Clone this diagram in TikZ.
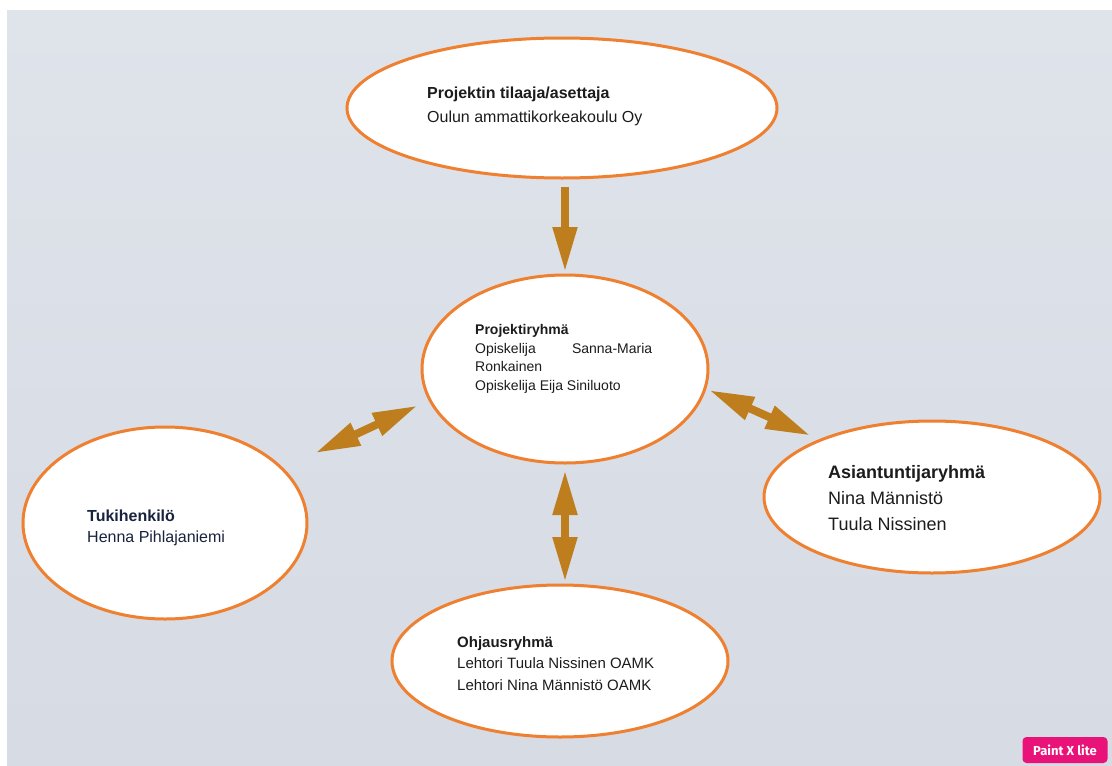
\documentclass[tikz,border=0pt]{standalone}
\usepackage{fontspec}
\setmainfont{Liberation Sans}
\newfontfamily\wmfont{Fira Sans}
\usetikzlibrary{shapes.geometric,arrows.meta}
\definecolor{bgtop}{RGB}{223,227,234}
\definecolor{bgmid}{RGB}{236,238,242}
\definecolor{bgbot}{RGB}{214,219,228}
\definecolor{ringorange}{RGB}{238,128,48}
\definecolor{arrowbrown}{RGB}{191,126,30}
\definecolor{inkblack}{RGB}{28,28,28}
\definecolor{inknavy}{RGB}{25,35,62}
\definecolor{wmpink}{RGB}{232,18,120}

\begin{document}
\begin{tikzpicture}[x=1pt,y=-1pt,
    bubble/.style={ellipse,draw=ringorange,line width=3pt,fill=white,inner sep=0pt},
    txt/.style={anchor=north west,inner sep=0pt,align=left,text=inkblack},
    link/.style={draw=arrowbrown,line width=8pt},
    >={Triangle[width=23pt,length=45pt]}]
  % background
  \useasboundingbox (0,0) rectangle (1112,766);
  \fill[white] (0,0) rectangle (1112,766);
  \shade[top color=bgtop,middle color=bgmid,bottom color=bgbot] (7,10) rectangle (1112,766);

  % bubbles
  \node[bubble,minimum width=430pt,minimum height=140pt] (tilaaja) at (562,108) {};
  \node[bubble,minimum width=286pt,minimum height=188pt] (ryhma) at (565,369) {};
  \node[bubble,minimum width=284pt,minimum height=192pt] (tuki) at (165,523) {};
  \node[bubble,minimum width=336pt,minimum height=152pt] (asiantuntijat) at (932,497) {};
  \node[bubble,minimum width=336pt,minimum height=152pt] (ohjaus) at (560,661) {};

  % texts
  \node[txt,font=\fontsize{16}{24}\selectfont] (tilaajatxt) at (427,87)
    {\textbf{Projektin tilaaja/asettaja}\\Oulun ammattikorkeakoulu Oy};
  \node[txt,font=\fontsize{14}{18.7}\selectfont] (ryhmatxt) at (475,324)
    {\textbf{Projektiryhmä}\\\hbox to 177pt{Opiskelija\hfill Sanna-Maria}\\Ronkainen\\Opiskelija Eija Siniluoto};
  \node[txt,text=inknavy,font=\fontsize{16}{21}\selectfont] (tukitxt) at (87,510)
    {\textbf{Tukihenkilö}\\Henna Pihlajaniemi};
  \node[txt,font=\fontsize{18}{26}\selectfont] (asiantuntijattxt) at (828,465)
    {\textbf{Asiantuntijaryhmä}\\Nina Männistö\\Tuula Nissinen};
  \node[txt,font=\fontsize{15}{21.5}\selectfont] (ohjaustxt) at (457,636)
    {\textbf{Ohjausryhmä}\\Lehtori Tuula Nissinen OAMK\\Lehtori Nina Männistö OAMK};

  % arrows
  \draw[link,->,shorten <=7.5pt,shorten >=1.5pt] (ryhma.north |- tilaaja.south) -- (ryhma.north);
  \draw[link,<->,shorten <=35pt,shorten >=12pt] (tuki.25) -- (ryhma.193);
  \draw[link,<->,shorten <=3pt,shorten >=9pt] (ryhma.352) -- (asiantuntijat.153);
  \draw[link,<->,shorten <=5.5pt,shorten >=1.5pt] (ryhma.south) -- (ryhma.south |- ohjaus.north);

  % watermark
  \node[fill=wmpink,rounded corners=4pt,minimum width=85pt,minimum height=26pt,
    text=white,font=\wmfont\bfseries\fontsize{13}{15}\selectfont] (watermark) at (1065,750) {Paint X lite};
\end{tikzpicture}
\end{document}
